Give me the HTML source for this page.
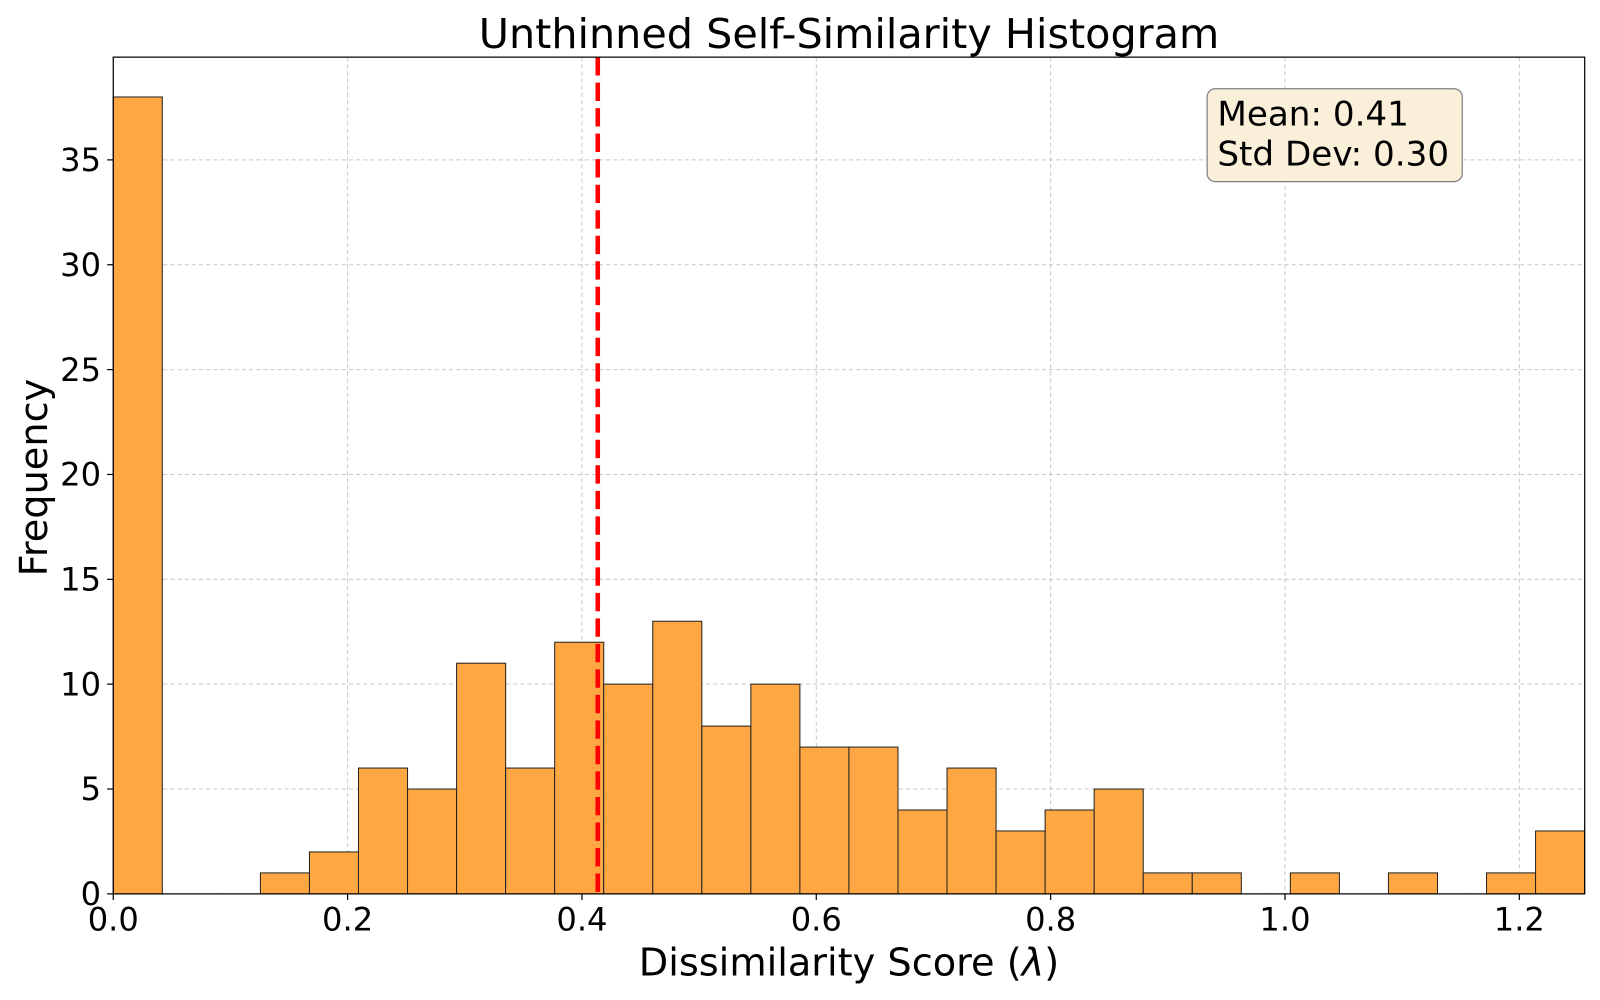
<!DOCTYPE html>
<html><head><meta charset="utf-8"><style>
html,body{margin:0;padding:0;background:#fff;}
svg{display:block;font-family:"DejaVu Sans","Liberation Sans",sans-serif;}
</style></head><body>
<svg id="chart" width="1600" height="1000" viewBox="0 0 1568 980">
<text x="832" y="47" font-size="40.5" text-anchor="middle">Unthinned Self-Similarity Histogram</text>
<g id="grid"></g>
<g id="bars"></g>
<g id="meanline"></g>
<rect x="111" y="56" width="1442" height="820" fill="none" stroke="#000" stroke-width="1.2"/>
<g id="xticks"></g>
<g id="yticks"></g>
<text x="832" y="956" font-size="37.5" text-anchor="middle">Dissimilarity Score (<tspan font-style="italic">λ</tspan>)</text>
<text transform="translate(46,468) rotate(-90)" font-size="37.5" text-anchor="middle">Frequency</text>
<g>
<rect x="1183" y="87" width="250" height="91" rx="8" fill="#faefd9" stroke="#7f7f7f" stroke-width="1.2"/>
<text x="1193" y="123" font-size="33.5">Mean: 0.41</text>
<text x="1193" y="162" font-size="33.5">Std Dev: 0.30</text>
</g>
</svg>
<script>
const counts=[38,0,0,1,2,6,5,11,6,12,10,13,8,10,7,7,4,6,3,4,5,1,1,0,1,0,1,0,1,3];
const binStart=0;
const binWidth=0.041858;
const xTicks=[0.0,0.2,0.4,0.6,0.8,1.0,1.2];
const yTicks=[0,5,10,15,20,25,30,35];
const meanValue=0.4135;
const xMin=0,xMax=1.2558,yMin=0,yMax=39.9;
const L=111,R=1553,T=56,B=876;
const sx=v=>L+(v-xMin)/(xMax-xMin)*(R-L);
const sy=v=>B-(v-yMin)/(yMax-yMin)*(B-T);
const NS="http://www.w3.org/2000/svg";
function mk(tag,attrs,parent){const e=document.createElementNS(NS,tag);for(const k in attrs)e.setAttribute(k,attrs[k]);parent.appendChild(e);return e;}
const grid=document.getElementById('grid'),bars=document.getElementById('bars');
const xt=document.getElementById('xticks'),yt=document.getElementById('yticks');
xTicks.forEach(v=>{const x=sx(v);
 const g=mk('line',{x1:x,x2:x,y1:T,y2:B,stroke:'#b0b0b0','stroke-width':1,'stroke-dasharray':'4,3','stroke-opacity':0.7},grid);
 
 
 const t=mk('line',{x1:x,x2:x,y1:B,y2:B+6,stroke:'#000','stroke-width':1.2},xt);
 
 
 const l=mk('text',{x:x,y:B+36,'font-size':31.5,'text-anchor':'middle'},xt);l.textContent=v.toFixed(1);
 
 
});
yTicks.forEach(v=>{const y=sy(v);
 const g=mk('line',{x1:L,x2:R,y1:y,y2:y,stroke:'#b0b0b0','stroke-width':1,'stroke-dasharray':'4,3','stroke-opacity':0.7},grid);
 
 
 const t=mk('line',{x1:L-6,x2:L,y1:y,y2:y,stroke:'#000','stroke-width':1.2},yt);
 
 
 const l=mk('text',{x:L-12,y:y+11,'font-size':31.5,'text-anchor':'end'},yt);l.textContent=v;
 
 
});
counts.forEach((c,i)=>{if(c<=0)return;
 const x0=sx(binStart+i*binWidth),x1=sx(binStart+(i+1)*binWidth);
 const r=mk('rect',{x:x0,y:sy(c),width:x1-x0,height:sy(0)-sy(c),fill:'#ffa843',stroke:'#222','stroke-width':1},bars);
 
 
});
const m=mk('line',{x1:sx(meanValue),x2:sx(meanValue),y1:T,y2:B,stroke:'#ff0000','stroke-width':4.5,'stroke-dasharray':'18,7'},document.getElementById('meanline'));


</script>
</body></html>
